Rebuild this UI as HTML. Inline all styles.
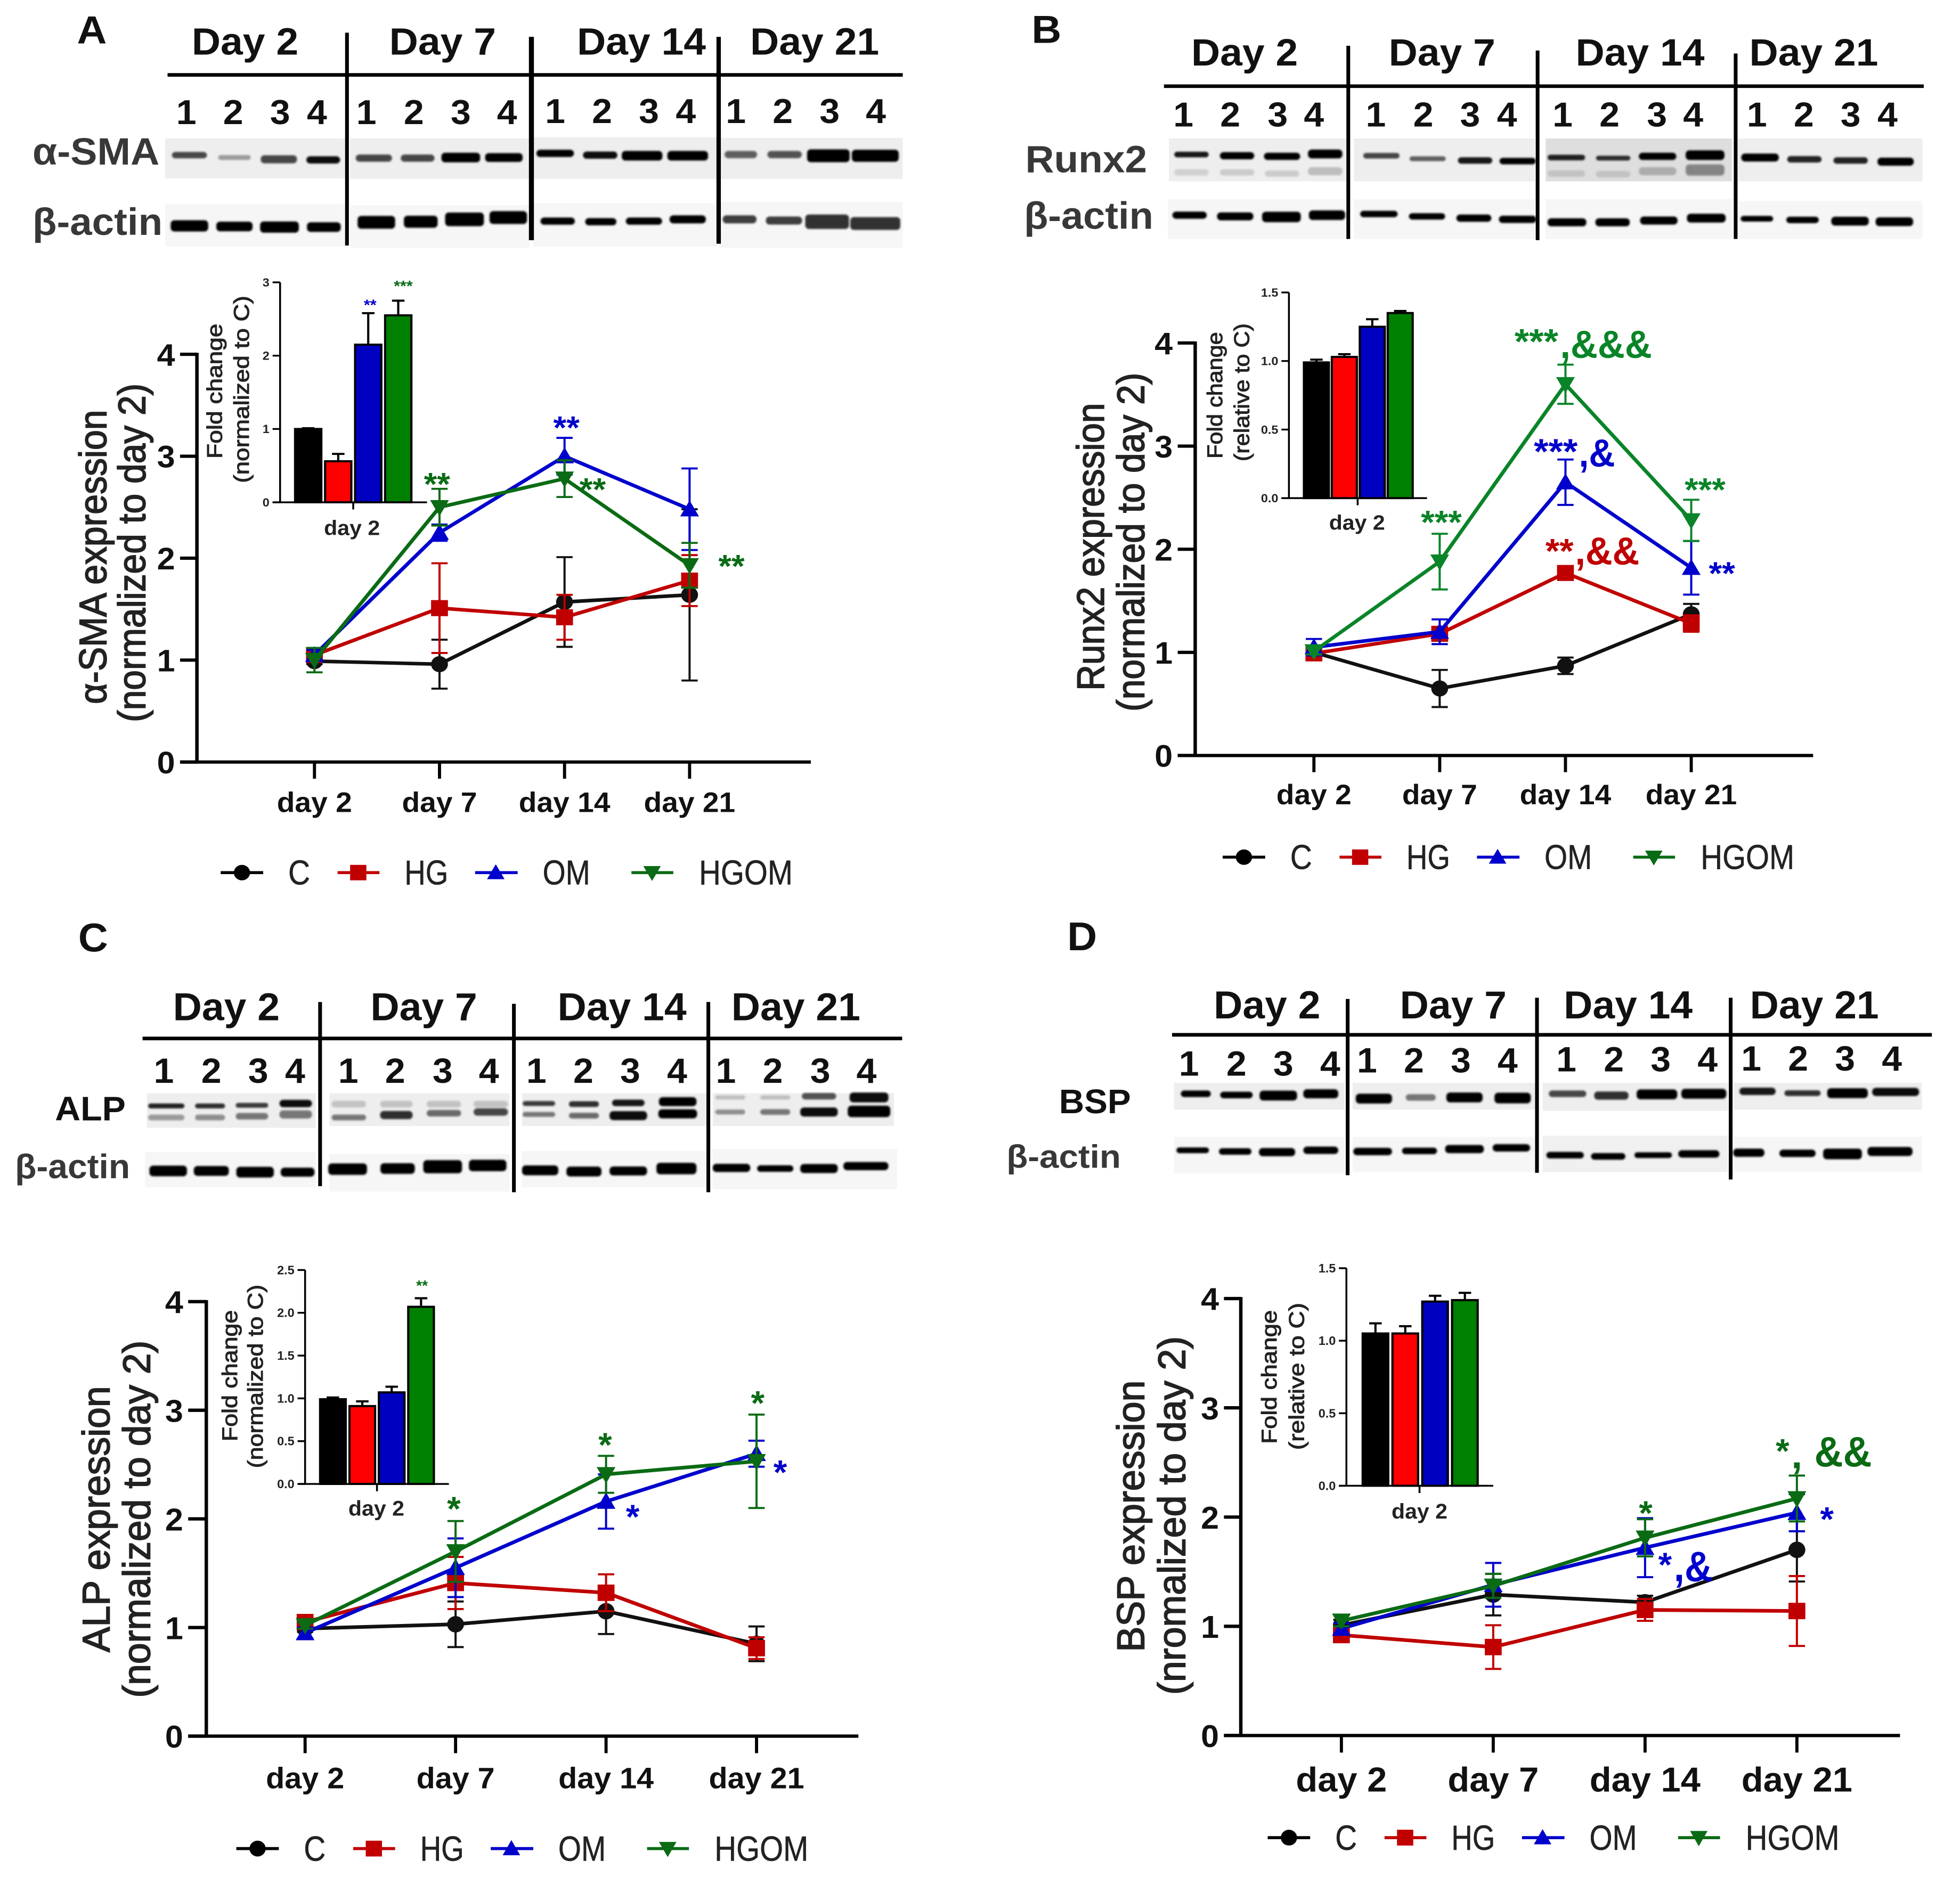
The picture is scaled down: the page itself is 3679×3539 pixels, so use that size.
<!DOCTYPE html>
<html lang="en">
<head>
<meta charset="utf-8">
<title>Western blots and expression charts</title>
<style>
html,body{margin:0;padding:0;background:#fff;}
svg{display:block;}
text{font-family:"Liberation Sans",sans-serif;}
.hd{font-size:64px;font-weight:700;text-anchor:middle;fill:#111;}
.ln{font-size:58px;font-weight:700;text-anchor:middle;fill:#111;}
.lab{font-size:64px;font-weight:700;fill:#383838;}
.labk{font-size:56px;font-weight:700;fill:#111;}
.letter{font-size:66px;font-weight:700;text-anchor:middle;fill:#111;}
.yt{font-size:62px;fill:#222;stroke:#222;stroke-width:1.5px;text-anchor:middle;}
.it{font-size:34px;fill:#222;stroke:#222;stroke-width:.9px;text-anchor:middle;}
.id{font-size:35px;font-weight:700;text-anchor:middle;fill:#222;}
.leg{font-size:58px;fill:#222;stroke:#222;stroke-width:.5px;}
.star{font-weight:700;text-anchor:middle;}
.amp{font-weight:700;}
.gn{fill:var(--g);} .bl{fill:#0000cc;} .rd{fill:#c00000;}
.strip1{fill:#eeeeee;} .strip2{fill:#f6f6f6;}
.div{fill:#000;}
</style>
</head>
<body>
<svg id="figure" xmlns="http://www.w3.org/2000/svg" width="3679" height="3539" viewBox="0 0 3679 3539">
<defs><filter id="soft" x="-20%" y="-60%" width="140%" height="220%"><feGaussianBlur stdDeviation="1.6"/></filter></defs>
<rect width="3679" height="3539" fill="#fff"/>

<!-- PANEL A -->
<g id="panel-a" transform="translate(0,0) scale(1.1735,1.116)" style="--g:#0a6b14">
<text class="letter" x="147" y="73">A</text>
<g id="a-strips">
<rect class="strip1" x="264" y="233" width="288" height="67"/><rect class="strip1" x="560" y="233" width="287" height="68"/><rect class="strip1" x="853" y="231" width="294" height="70"/><rect class="strip1" x="1150" y="232" width="294" height="69"/>
<rect class="strip2" x="264" y="343" width="288" height="72"/><rect class="strip2" x="560" y="345" width="287" height="72"/><rect class="strip2" x="853" y="342" width="294" height="73"/><rect class="strip2" x="1150" y="340" width="294" height="77"/>
</g>
<g id="a-blots"></g>
<g><rect class="div" x="268" y="123" width="1176" height="6"/><rect class="div" x="552" y="55" width="6" height="358"/><rect class="div" x="846" y="62" width="8" height="342"/><rect class="div" x="1146" y="62" width="7" height="348"/></g>
<text class="hd" x="392" y="92">Day 2</text>
<text class="hd" x="708" y="92">Day 7</text>
<text class="hd" x="1026" y="92">Day 14</text>
<text class="hd" x="1303" y="92">Day 21</text>
<text class="ln" y="209"><tspan x="298">1</tspan><tspan x="373">2</tspan><tspan x="448">3</tspan><tspan x="507">4</tspan><tspan x="586">1</tspan><tspan x="662">2</tspan><tspan x="737">3</tspan><tspan x="811">4</tspan><tspan x="888" y="207">1</tspan><tspan x="963">2</tspan><tspan x="1038">3</tspan><tspan x="1097">4</tspan><tspan x="1177">1</tspan><tspan x="1252">2</tspan><tspan x="1327">3</tspan><tspan x="1401">4</tspan></text>
<text class="lab" x="52" y="277" textLength="203" lengthAdjust="spacingAndGlyphs">α-SMA</text>
<text class="lab" x="52" y="395" textLength="208" lengthAdjust="spacingAndGlyphs">β-actin</text>
<text class="yt" transform="translate(170,937) rotate(-90)" textLength="495" lengthAdjust="spacingAndGlyphs">α-SMA expression</text>
<text class="yt" transform="translate(232,930) rotate(-90)" textLength="570" lengthAdjust="spacingAndGlyphs">(normalized to day 2)</text>
<text class="it" transform="translate(355,658) rotate(-90)" textLength="227" lengthAdjust="spacingAndGlyphs">Fold change</text>
<text class="it" transform="translate(398,655) rotate(-90)" textLength="315" lengthAdjust="spacingAndGlyphs">(normalized to C)</text>
<text class="id" x="563" y="900">day 2</text>
<g id="a-plot"></g>
<g>
<text class="star bl" x="592" y="522" font-size="26">**</text>
<text class="star gn" x="645" y="490" font-size="26">***</text>
<text class="star gn" x="699" y="833" font-size="54">**</text>
<text class="star bl" x="906" y="738" font-size="54">**</text>
<text class="star gn" x="948" y="842" font-size="54">**</text>
<text class="star gn" x="1170" y="971" font-size="54">**</text>
</g>
<g transform="translate(0,1468)">
<g><line x1="353" x2="421" stroke="#000" stroke-width="5"/><circle cx="387" r="13"/><text class="leg" x="461" y="20" textLength="35" lengthAdjust="spacingAndGlyphs">C</text></g>
<g><line x1="540" x2="607" stroke="#c00000" stroke-width="5"/><rect class="rd" x="560" y="-13" width="26" height="26"/><text class="leg" x="647" y="20" textLength="70" lengthAdjust="spacingAndGlyphs">HG</text></g>
<g><line x1="760" x2="828" stroke="#0000cc" stroke-width="5"/><polygon class="bl" points="779,11 807,11 793,-14"/><text class="leg" x="868" y="20" textLength="76" lengthAdjust="spacingAndGlyphs">OM</text></g>
<g><line x1="1010" x2="1077" stroke="var(--g)" stroke-width="5"/><polygon class="gn" points="1029,-11 1057,-11 1043,14"/><text class="leg" x="1118" y="20" textLength="150" lengthAdjust="spacingAndGlyphs">HGOM</text></g>
</g>
</g>

<!-- PANEL B -->
<g id="panel-b" transform="translate(1840,0) scale(1.1728,1.116)" style="--g:#0a8428">
<text class="letter" x="106" y="72">B</text>
<g id="b-strips">
<rect class="strip1" x="302" y="233" width="285" height="72"/><rect class="strip1" x="598" y="233" width="290" height="72"/><rect fill="#dedede" x="905" y="233" width="298" height="72"/><rect class="strip1" x="1213" y="233" width="295" height="72"/>
<rect class="strip2" x="300" y="335" width="287" height="67"/><rect class="strip2" x="598" y="335" width="290" height="67"/><rect class="strip2" x="905" y="335" width="300" height="67"/><rect class="strip2" x="1213" y="338" width="295" height="64"/>
</g>
<g id="b-blots"></g>
<g><rect class="div" x="294" y="142" width="1216" height="6"/><rect class="div" x="586" y="77" width="6" height="325"/><rect class="div" x="889" y="85" width="6" height="319"/><rect class="div" x="1206" y="90" width="6" height="312"/></g>
<text class="hd" x="423" y="110">Day 2</text>
<text class="hd" x="739" y="110">Day 7</text>
<text class="hd" x="1056" y="110">Day 14</text>
<text class="hd" x="1334" y="110">Day 21</text>
<text class="ln" y="213"><tspan x="325">1</tspan><tspan x="400">2</tspan><tspan x="476">3</tspan><tspan x="534">4</tspan><tspan x="633">1</tspan><tspan x="709">2</tspan><tspan x="784">3</tspan><tspan x="843">4</tspan><tspan x="932">1</tspan><tspan x="1007">2</tspan><tspan x="1083">3</tspan><tspan x="1141">4</tspan><tspan x="1243">1</tspan><tspan x="1318">2</tspan><tspan x="1393">3</tspan><tspan x="1452">4</tspan></text>
<text class="lab" x="72" y="290" textLength="195" lengthAdjust="spacingAndGlyphs">Runx2</text>
<text class="lab" x="70" y="385" textLength="207" lengthAdjust="spacingAndGlyphs">β-actin</text>
<text class="yt" transform="translate(198,920) rotate(-90)" textLength="484" lengthAdjust="spacingAndGlyphs">Runx2 expression</text>
<text class="yt" transform="translate(262,912) rotate(-90)" textLength="570" lengthAdjust="spacingAndGlyphs">(normalized to day 2)</text>
<text class="it" transform="translate(387,665) rotate(-90)" textLength="213" lengthAdjust="spacingAndGlyphs">Fold change</text>
<text class="it" transform="translate(430,660) rotate(-90)" textLength="232" lengthAdjust="spacingAndGlyphs">(relative to C)</text>
<text class="id" x="603" y="891">day 2</text>
<g id="b-plot"></g>
<g>
<text class="star gn" x="738" y="898" font-size="56">***</text>
<text class="star gn" x="890" y="595" font-size="60">***</text>
<text class="amp gn" x="928" y="602" font-size="66" textLength="147" lengthAdjust="spacingAndGlyphs">,&amp;&amp;&amp;</text>
<text class="star bl" x="921" y="780" font-size="60">***</text>
<text class="amp bl" x="958" y="785" font-size="66" textLength="58" lengthAdjust="spacingAndGlyphs">,&amp;</text>
<text class="star rd" x="927" y="947" font-size="58">**</text>
<text class="amp rd" x="952" y="950" font-size="66" textLength="103" lengthAdjust="spacingAndGlyphs">,&amp;&amp;</text>
<text class="star gn" x="1160" y="843" font-size="56">***</text>
<text class="star bl" x="1187" y="983" font-size="54">**</text>
</g>
<g transform="translate(35,1442)">
<g><line x1="353" x2="421" stroke="#000" stroke-width="5"/><circle cx="387" r="13"/><text class="leg" x="461" y="20" textLength="35" lengthAdjust="spacingAndGlyphs">C</text></g>
<g><line x1="540" x2="607" stroke="#c00000" stroke-width="5"/><rect class="rd" x="560" y="-13" width="26" height="26"/><text class="leg" x="647" y="20" textLength="70" lengthAdjust="spacingAndGlyphs">HG</text></g>
<g><line x1="760" x2="828" stroke="#0000cc" stroke-width="5"/><polygon class="bl" points="779,11 807,11 793,-14"/><text class="leg" x="868" y="20" textLength="76" lengthAdjust="spacingAndGlyphs">OM</text></g>
<g><line x1="1010" x2="1077" stroke="#0a6b14" stroke-width="5"/><polygon fill="#0a6b14" points="1029,-11 1057,-11 1043,14"/><text class="leg" x="1118" y="20" textLength="150" lengthAdjust="spacingAndGlyphs">HGOM</text></g>
</g>
</g>

<!-- PANEL C -->
<g id="panel-c" transform="translate(0,1750) scale(1.1735,1.141)" style="--g:#0a6b14">
<text class="letter" x="149" y="32">C</text>
<g id="c-strips">
<rect class="strip1" x="235" y="265" width="270" height="57"/><rect class="strip1" x="527" y="265" width="288" height="54"/><rect class="strip1" x="835" y="265" width="295" height="54"/><rect class="strip1" x="1140" y="265" width="290" height="54"/>
<rect class="strip2" x="232" y="362" width="273" height="58"/><rect class="strip2" x="527" y="365" width="288" height="62"/><rect class="strip2" x="835" y="360" width="295" height="60"/><rect class="strip2" x="1140" y="357" width="295" height="66"/>
</g>
<g id="c-blots"></g>
<g><rect class="div" x="228" y="172" width="1215" height="6"/><rect class="div" x="509" y="115" width="6" height="303"/><rect class="div" x="819" y="118" width="6" height="310"/><rect class="div" x="1130" y="115" width="6" height="313"/></g>
<text class="hd" x="362" y="145">Day 2</text>
<text class="hd" x="678" y="145">Day 7</text>
<text class="hd" x="995" y="145">Day 14</text>
<text class="hd" x="1273" y="145">Day 21</text>
<text class="ln" y="248"><tspan x="262">1</tspan><tspan x="338">2</tspan><tspan x="413">3</tspan><tspan x="472">4</tspan><tspan x="557">1</tspan><tspan x="632">2</tspan><tspan x="708">3</tspan><tspan x="782">4</tspan><tspan x="858">1</tspan><tspan x="933">2</tspan><tspan x="1008">3</tspan><tspan x="1083">4</tspan><tspan x="1161">1</tspan><tspan x="1236">2</tspan><tspan x="1312">3</tspan><tspan x="1386">4</tspan></text>
<text class="labk" x="88" y="310" textLength="113" lengthAdjust="spacingAndGlyphs">ALP</text>
<text class="lab" x="24" y="405" textLength="184" lengthAdjust="spacingAndGlyphs" style="font-size:56px">β-actin</text>
<text class="yt" transform="translate(175,966) rotate(-90)" textLength="438" lengthAdjust="spacingAndGlyphs">ALP expression</text>
<text class="yt" transform="translate(240,966) rotate(-90)" textLength="588" lengthAdjust="spacingAndGlyphs">(normalized to day 2)</text>
<text class="it" transform="translate(379,730) rotate(-90)" textLength="216" lengthAdjust="spacingAndGlyphs">Fold change</text>
<text class="it" transform="translate(420,731) rotate(-90)" textLength="302" lengthAdjust="spacingAndGlyphs">(normalized to C)</text>
<text class="id" x="602" y="960">day 2</text>
<g id="c-plot"></g>
<g>
<text class="star gn" x="675" y="590" font-size="24">**</text>
<text class="star gn" x="726" y="968" font-size="56">*</text>
<text class="star gn" x="968" y="863" font-size="56">*</text>
<text class="star gn" x="1212" y="794" font-size="56">*</text>
<text class="star bl" x="1012" y="981" font-size="56">*</text>
<text class="star bl" x="1248" y="908" font-size="56">*</text>
</g>
<g transform="translate(25,1508)">
<g><line x1="353" x2="421" stroke="#000" stroke-width="5"/><circle cx="387" r="13"/><text class="leg" x="461" y="20" textLength="35" lengthAdjust="spacingAndGlyphs">C</text></g>
<g><line x1="540" x2="607" stroke="#c00000" stroke-width="5"/><rect class="rd" x="560" y="-13" width="26" height="26"/><text class="leg" x="647" y="20" textLength="70" lengthAdjust="spacingAndGlyphs">HG</text></g>
<g><line x1="760" x2="828" stroke="#0000cc" stroke-width="5"/><polygon class="bl" points="779,11 807,11 793,-14"/><text class="leg" x="868" y="20" textLength="76" lengthAdjust="spacingAndGlyphs">OM</text></g>
<g><line x1="1010" x2="1077" stroke="var(--g)" stroke-width="5"/><polygon class="gn" points="1029,-11 1057,-11 1043,14"/><text class="leg" x="1118" y="20" textLength="150" lengthAdjust="spacingAndGlyphs">HGOM</text></g>
</g>
</g>

<!-- PANEL D -->
<g id="panel-d" transform="translate(1840,1750) scale(1.1728,1.141)" style="--g:#0a6b14">
<text class="letter" x="163" y="30">D</text>
<g id="d-strips">
<rect class="strip1" x="310" y="248" width="273" height="44"/><rect class="strip1" x="596" y="248" width="292" height="44"/><rect class="strip1" x="900" y="248" width="297" height="46"/><rect class="strip1" x="1205" y="248" width="302" height="44"/>
<rect class="strip2" x="310" y="337" width="273" height="60"/><rect class="strip2" x="596" y="337" width="292" height="58"/><rect fill="#f0f0f0" x="900" y="335" width="297" height="60"/><rect class="strip2" x="1205" y="337" width="302" height="58"/>
</g>
<g id="d-blots"></g>
<g><rect class="div" x="307" y="166" width="1216" height="6"/><rect class="div" x="585" y="110" width="6" height="290"/><rect class="div" x="888" y="108" width="6" height="288"/><rect class="div" x="1198" y="108" width="6" height="299"/></g>
<text class="hd" x="459" y="142">Day 2</text>
<text class="hd" x="757" y="142">Day 7</text>
<text class="hd" x="1037" y="142">Day 14</text>
<text class="hd" x="1335" y="142">Day 21</text>
<text class="ln"><tspan x="334" y="236">1</tspan><tspan x="410" y="236">2</tspan><tspan x="485" y="236">3</tspan><tspan x="560" y="236">4</tspan><tspan x="619" y="231">1</tspan><tspan x="694" y="231">2</tspan><tspan x="769" y="231">3</tspan><tspan x="844" y="231">4</tspan><tspan x="938" y="229">1</tspan><tspan x="1014" y="229">2</tspan><tspan x="1089" y="229">3</tspan><tspan x="1164" y="229">4</tspan><tspan x="1234" y="228">1</tspan><tspan x="1309" y="228">2</tspan><tspan x="1384" y="228">3</tspan><tspan x="1459" y="228">4</tspan></text>
<text class="labk" x="126" y="298" textLength="115" lengthAdjust="spacingAndGlyphs">BSP</text>
<text class="lab" x="42" y="388" textLength="183" lengthAdjust="spacingAndGlyphs" style="font-size:54px">β-actin</text>
<text class="yt" transform="translate(262,961) rotate(-90)" textLength="447" lengthAdjust="spacingAndGlyphs">BSP expression</text>
<text class="yt" transform="translate(328,960) rotate(-90)" textLength="590" lengthAdjust="spacingAndGlyphs">(nromalized to day 2)</text>
<text class="it" transform="translate(474,732) rotate(-90)" textLength="220" lengthAdjust="spacingAndGlyphs">Fold change</text>
<text class="it" transform="translate(518,731) rotate(-90)" textLength="242" lengthAdjust="spacingAndGlyphs">(relative to C)</text>
<text class="id" x="703" y="965">day 2</text>
<g id="d-plot"></g>
<g>
<text class="star gn" x="1065" y="975" font-size="56">*</text>
<text class="star gn" x="1284" y="873" font-size="56">*</text>
<text class="amp gn" x="1298" y="882" font-size="64">,</text>
<text class="amp gn" x="1335" y="879" font-size="70" textLength="92" lengthAdjust="spacingAndGlyphs">&amp;&amp;</text>
<text class="star bl" x="1355" y="985" font-size="56">*</text>
<text class="star bl" x="1096" y="1060" font-size="56">*</text>
<text class="amp bl" x="1110" y="1068" font-size="70" textLength="62" lengthAdjust="spacingAndGlyphs">,&amp;</text>
</g>
<g transform="translate(107,1490)">
<g><line x1="353" x2="421" stroke="#000" stroke-width="5"/><circle cx="387" r="13"/><text class="leg" x="461" y="20" textLength="35" lengthAdjust="spacingAndGlyphs">C</text></g>
<g><line x1="540" x2="607" stroke="#c00000" stroke-width="5"/><rect class="rd" x="560" y="-13" width="26" height="26"/><text class="leg" x="647" y="20" textLength="70" lengthAdjust="spacingAndGlyphs">HG</text></g>
<g><line x1="760" x2="828" stroke="#0000cc" stroke-width="5"/><polygon class="bl" points="779,11 807,11 793,-14"/><text class="leg" x="868" y="20" textLength="76" lengthAdjust="spacingAndGlyphs">OM</text></g>
<g><line x1="1010" x2="1077" stroke="var(--g)" stroke-width="5"/><polygon class="gn" points="1029,-11 1057,-11 1043,14"/><text class="leg" x="1118" y="20" textLength="150" lengthAdjust="spacingAndGlyphs">HGOM</text></g>
</g>
</g>
</svg>

<script>
// ---------- chart data ----------
const dayLabels = ['day 2','day 7','day 14','day 21'];
const yTickValues = [0,1,2,3,4];
const seriesNames = ['C','HG','OM','HGOM'];

// Panel A: alpha-SMA
const aC = [0.99,0.96,1.57,1.64];
const aCErr = [0.03,0.24,0.44,0.84];
const aHG = [1.05,1.51,1.42,1.78];
const aHGErr = [0.05,0.44,0.22,0.25];
const aOM = [1.05,2.25,3.0,2.48];
const aOMErr = [0.05,0.08,0.18,0.4];
const aHGOM = [1.0,2.5,2.78,1.93];
const aHGOMErr = [0.12,0.18,0.18,0.22];
const aInsetTicks = [0,1,2,3];
const aInsetTickLabels = ['0','1','2','3'];
const aInsetBars = [1.0,0.56,2.15,2.55];
const aInsetErr = [0.01,0.1,0.43,0.2];

// Panel B: Runx2
const bC = [1.0,0.65,0.87,1.37];
const bCErr = [0.03,0.18,0.08,0.1];
const bHG = [0.99,1.18,1.77,1.28];
const bHGErr = [0.05,0.05,0.03,0.08];
const bOM = [1.05,1.2,2.65,1.82];
const bOMErr = [0.08,0.12,0.22,0.26];
const bHGOM = [1.01,1.88,3.6,2.28];
const bHGOMErr = [0.03,0.27,0.19,0.2];
const bInsetTicks = [0,0.5,1,1.5];
const bInsetTickLabels = ['0.0','0.5','1.0','1.5'];
const bInsetBars = [0.99,1.03,1.25,1.35];
const bInsetErr = [0.02,0.02,0.055,0.015];

// Panel C: ALP
const cC = [0.99,1.03,1.15,0.85];
const cCErr = [0.03,0.21,0.21,0.16];
const cHG = [1.05,1.41,1.32,0.81];
const cHGErr = [0.03,0.24,0.17,0.1];
const cOM = [0.95,1.55,2.16,2.6];
const cOMErr = [0.05,0.27,0.25,0.12];
const cHGOM = [1.02,1.7,2.41,2.53];
const cHGOMErr = [0.03,0.28,0.17,0.43];
const cInsetTicks = [0,0.5,1,1.5,2,2.5];
const cInsetTickLabels = ['0.0','0.5','1.0','1.5','2.0','2.5'];
const cInsetBars = [0.99,0.91,1.07,2.07];
const cInsetErr = [0.02,0.055,0.066,0.1];

// Panel D: BSP
const dC = [1.01,1.29,1.22,1.7];
const dCErr = [0.05,0.19,0.06,0.29];
const dHG = [0.92,0.81,1.15,1.14];
const dHGErr = [0.03,0.2,0.1,0.32];
const dOM = [0.98,1.38,1.72,2.04];
const dOMErr = [0.05,0.2,0.27,0.17];
const dHGOM = [1.05,1.37,1.81,2.17];
const dHGOMErr = [0.05,0.11,0.17,0.21];
const dInsetTicks = [0,0.5,1,1.5];
const dInsetTickLabels = ['0.0','0.5','1.0','1.5'];
const dInsetBars = [1.05,1.05,1.27,1.28];
const dInsetErr = [0.07,0.05,0.04,0.05];

// ---------- helpers ----------
const NS = 'http://www.w3.org/2000/svg';
function make(tag, attrs, parent){
  const el = document.createElementNS(NS, tag);
  for (const k in attrs) el.setAttribute(k, attrs[k]);
  parent.appendChild(el);
  return el;
}

function drawMarker(parent, kind, x, y, color, name){
  let el;
  if (kind === 'C') el = make('circle',{cx:x,cy:y,r:13.5,fill:color},parent);
  if (kind === 'HG') el = make('rect',{x:x-13.5,y:y-13.5,width:27,height:27,fill:color},parent);
  if (kind === 'OM') el = make('polygon',{points:`${x-15},${y+12} ${x+15},${y+12} ${x},${y-15}`,fill:color},parent);
  if (kind === 'HGOM') el = make('polygon',{points:`${x-15},${y-12} ${x+15},${y-12} ${x},${y+15}`,fill:color},parent);
  
  
}

function drawChart(plotId, ax, series, errors, colors, inset, barValues, barErrors, insetTicks, insetLabels){
  const root = document.getElementById(plotId);
  const yOf = v => ax.y0 - (v / yTickValues[yTickValues.length-1]) * (ax.y0 - ax.yTop);
  const xOf = i => ax.x1 + i * ax.dx;

  // inset
  const ig = make('g',{},root);
  
  
  const iy = v => inset.y0 - (v / insetTicks[insetTicks.length-1]) * (inset.y0 - inset.yTop);
  const barFill = ['#000000','#ff0000','#0000c0','#008000'];
  barValues.forEach((v,i) => {
    const bx = inset.barX + i * inset.barDx;
    const top = iy(v), errTop = iy(v + barErrors[i]);
    const cx = bx + inset.barW/2;
    const eb = make('path',{d:`M${cx} ${top}V${errTop}M${cx-10} ${errTop}H${cx+10}`,stroke:'#000','stroke-width':3.5,fill:'none'},ig);
    
    
    const bar = make('rect',{x:bx,y:top,width:inset.barW,height:inset.y0-top,fill:barFill[i],stroke:'#000','stroke-width':3.5},ig);
    
    
  });
  const iaxis = make('path',{d:`M${inset.x} ${iy(insetTicks[insetTicks.length-1])}V${inset.y0}M${inset.x-12} ${inset.y0}H${inset.xEnd}M${inset.tickX} ${inset.y0}v12`,stroke:'#000','stroke-width':3,fill:'none'},ig);
  
  
  insetTicks.forEach((t,i) => {
    const tk = make('line',{x1:inset.x-12,x2:inset.x,y1:iy(t),y2:iy(t),stroke:'#000','stroke-width':3},ig);
    
    
    const tl = make('text',{x:inset.x-17,y:iy(t)+7,'text-anchor':'end','font-size':20,'font-weight':700,fill:'#222'},ig);
    
    
    tl.textContent = insetLabels[i];
  });

  // main axes
  const ag = make('g',{},root);
  
  
  const axisPath = make('path',{d:`M${ax.x} ${ax.yTop-2.5}V${ax.y0}M${ax.tickLeft} ${ax.y0}H${ax.xEnd}`,stroke:'#000','stroke-width':5.5,fill:'none'},ag);
  
  
  yTickValues.forEach(t => {
    const tk = make('line',{x1:ax.tickLeft,x2:ax.x,y1:yOf(t),y2:yOf(t),stroke:'#000','stroke-width':5.5},ag);
    
    
    const tl = make('text',{x:ax.tickLeft-8,y:yOf(t)+19,'text-anchor':'end','font-size':52,'font-weight':700,fill:'#111'},ag);
    
    
    tl.textContent = t;
  });
  dayLabels.forEach((d,i) => {
    const tk = make('line',{x1:xOf(i),x2:xOf(i),y1:ax.y0,y2:ax.y0+28,stroke:'#000','stroke-width':5},ag);
    
    
    const tl = make('text',{x:xOf(i),y:ax.y0+ax.labelDy,'text-anchor':'middle','font-size':ax.labelSize,'font-weight':700,fill:'#111'},ag);
    
    
    tl.textContent = d;
  });

  // series
  series.forEach((vals,s) => {
    const name = seriesNames[s];
    const sg = make('g',{},root);
    
    
    vals.forEach((v,i) => {
      const x = xOf(i), hi = yOf(v + errors[s][i]), lo = yOf(v - errors[s][i]);
      const eb = make('path',{d:`M${x} ${hi}V${lo}M${x-13} ${hi}H${x+13}M${x-13} ${lo}H${x+13}`,stroke:colors[s],'stroke-width':3.4,fill:'none'},sg);
      
      
    });
    const line = make('polyline',{points:vals.map((v,i)=>xOf(i)+','+yOf(v)).join(' '),fill:'none',stroke:colors[s],'stroke-width':6,'stroke-linejoin':'miter'},sg);
    
    
    vals.forEach((v,i) => {
      drawMarker(sg, name, xOf(i), yOf(v), colors[s], 'point-' + name.toLowerCase() + '-' + dayLabels[i].replace(' ','-'));
    });
  });
}

function drawBands(id, list){
  const parent = document.getElementById(id);
  list.forEach(b => {
    const h = b[3] * 1.35;
    const el = make('rect',{x:b[0]-b[2]/2,y:b[1]-h/2,width:b[2],height:h,rx:Math.min(h/2,6),fill:'#050505',opacity:b[4]===undefined?1:b[4],filter:'url(#soft)'},parent);
    
    
  });
}

function drawBlots(){
  drawBands('a-blots',[
    [303,261,56,8,.7],[375,265,52,6,.35],[446,268,58,10,.7],[517,269,54,9,.95],[598,266,58,9,.7],[668,266,54,9,.7],[737,265,62,12,1],[806,265,60,11,1],[888,258,60,9,1],[960,261,55,9,.95],[1027,262,65,12,1],[1100,262,65,12,1],[1185,260,52,9,.6],[1255,260,55,9,.65],[1325,262,68,16,1],[1400,262,75,15,1],
    [303,380,60,14],[375,381,58,12],[447,382,62,14],[518,382,54,12],[602,374,60,16],[673,373,54,15],[743,369,62,17],[813,366,60,16],[892,372,55,9],[961,373,50,9],[1030,372,58,9],[1100,369,58,10],[1183,369,54,10,.75],[1254,371,58,10,.75],[1323,373,70,18,.8],[1400,376,80,16,.8]
  ]);
  drawBands('b-blots',[
    [338,260,55,7,.9],[411,262,55,9,1],[483,263,58,9,1],[552,259,55,11,1],[642,262,58,7,.7],[716,267,58,6,.6],[792,270,55,8,.9],[860,271,58,8,1],[938,265,60,7,.85],[1013,266,55,6,.8],[1084,263,60,9,1],[1160,261,62,12,1],[1248,265,60,10,1],[1319,268,55,8,.85],[1393,270,55,8,.85],[1465,272,58,10,1],
    [338,290,55,8,.12],[411,290,55,8,.14],[483,292,55,8,.14],[552,288,55,10,.2],[938,292,60,8,.12],[1013,293,55,8,.12],[1084,288,60,10,.22],[1160,286,62,14,.4],
    [335,362,55,9],[408,364,58,10],[482,365,62,13],[555,362,58,12],[638,360,60,8],[715,364,58,8],[790,367,56,9],[860,369,60,9],[939,374,62,10],[1012,374,55,10],[1086,371,60,10],[1162,367,62,11],[1243,368,52,7],[1316,370,52,8],[1392,372,60,11],[1463,373,60,11]
  ]);
  drawBands('c-blots',[
    [266,286,58,6,.85],[336,286,48,6,.8],[403,285,52,6,.75],[473,282,52,9,.95],[266,305,58,7,.35],[336,305,48,7,.4],[403,303,52,8,.5],[473,300,52,10,.5],
    [558,283,55,8,.18],[634,283,52,8,.18],[710,283,55,8,.18],[785,283,55,8,.18],[558,305,55,7,.5],[634,301,52,10,.8],[710,298,55,8,.55],[785,296,55,9,.7],
    [862,282,52,6,.75],[934,283,48,7,.8],[1005,281,52,8,.9],[1084,279,60,11,1],[862,300,52,6,.5],[934,302,48,7,.55],[1005,302,60,11,.95],[1084,299,62,11,1],
    [1168,272,48,5,.2],[1240,272,48,5,.2],[1310,270,55,8,.65],[1390,272,62,12,.95],[1168,296,48,6,.4],[1240,296,48,7,.5],[1310,296,60,11,.95],[1390,295,68,14,1],
    [269,393,60,13],[338,393,56,12],[408,395,60,13],[476,395,54,11],[556,390,62,14],[636,389,55,13],[708,386,62,16],[780,384,60,14],[864,392,58,12],[934,394,56,12],[1005,393,60,11],[1082,389,64,14],[1170,388,60,10],[1240,389,58,8],[1310,389,60,11],[1385,385,72,10]
  ]);
  drawBands('d-blots',[
    [345,266,48,8],[410,268,52,8],[477,269,60,12],[545,266,56,11],[630,274,58,12],[705,272,48,8,.5],[775,272,58,12],[852,273,58,13],[940,266,60,8,.7],[1010,269,55,10,.8],[1083,267,65,12,1],[1158,266,72,12,1],[1244,262,58,9,.9],[1316,265,58,7,.8],[1388,265,65,12,1],[1465,263,75,10,.95],
    [340,359,52,7],[408,361,52,8],[475,362,58,10],[545,359,56,9],[628,361,62,9],[703,360,56,8],[775,357,62,10],[850,355,60,9],[936,367,60,8],[1005,369,55,8],[1077,367,60,7],[1150,365,66,9],[1230,363,50,10],[1308,364,58,9],[1380,365,62,13],[1456,361,72,11]
  ]);
}

drawBlots();

drawChart('a-plot',
  {x:315,y0:1282,yTop:596,tickLeft:288,xEnd:1297,x1:503,dx:200,labelDy:84,labelSize:47},
  [aC,aHG,aOM,aHGOM],[aCErr,aHGErr,aOMErr,aHGOMErr],['#111111','#c00000','#0000cc','#0a6b14'],
  {x:448,y0:845,yTop:475,xEnd:683,tickX:565,barX:472,barDx:48,barW:42},
  aInsetBars,aInsetErr,aInsetTicks,aInsetTickLabels);

drawChart('b-plot',
  {x:344,y0:1271,yTop:577,tickLeft:316,xEnd:1333,x1:534,dx:201.3,labelDy:82,labelSize:47},
  [bC,bHG,bOM,bHGOM],[bCErr,bHGErr,bOMErr,bHGOMErr],['#111111','#c00000','#0000cc','#0a8428'],
  {x:494,y0:838,yTop:492,xEnd:715,tickX:604,barX:518,barDx:44.7,barW:40},
  bInsetBars,bInsetErr,bInsetTicks,bInsetTickLabels);

drawChart('c-plot',
  {x:330,y0:1323,yTop:608,tickLeft:301,xEnd:1373,x1:488,dx:240.7,labelDy:86,labelSize:49},
  [cC,cHG,cOM,cHGOM],[cCErr,cHGErr,cOMErr,cHGOMErr],['#111111','#c00000','#0000cc','#0a6b14'],
  {x:488,y0:908,yTop:556,xEnd:718,tickX:603,barX:512,barDx:47,barW:41},
  cInsetBars,cInsetErr,cInsetTicks,cInsetTickLabels);

drawChart('d-plot',
  {x:417,y0:1322,yTop:603,tickLeft:390,xEnd:1472,x1:578,dx:243,labelDy:92,labelSize:57},
  [dC,dHG,dOM,dHGOM],[dCErr,dHGErr,dOMErr,dHGOMErr],['#111111','#c00000','#0000cc','#0a6b14'],
  {x:586,y0:911,yTop:553,xEnd:821,tickX:703,barX:612,barDx:47.7,barW:41},
  dInsetBars,dInsetErr,dInsetTicks,dInsetTickLabels);
</script>
</body>
</html>
